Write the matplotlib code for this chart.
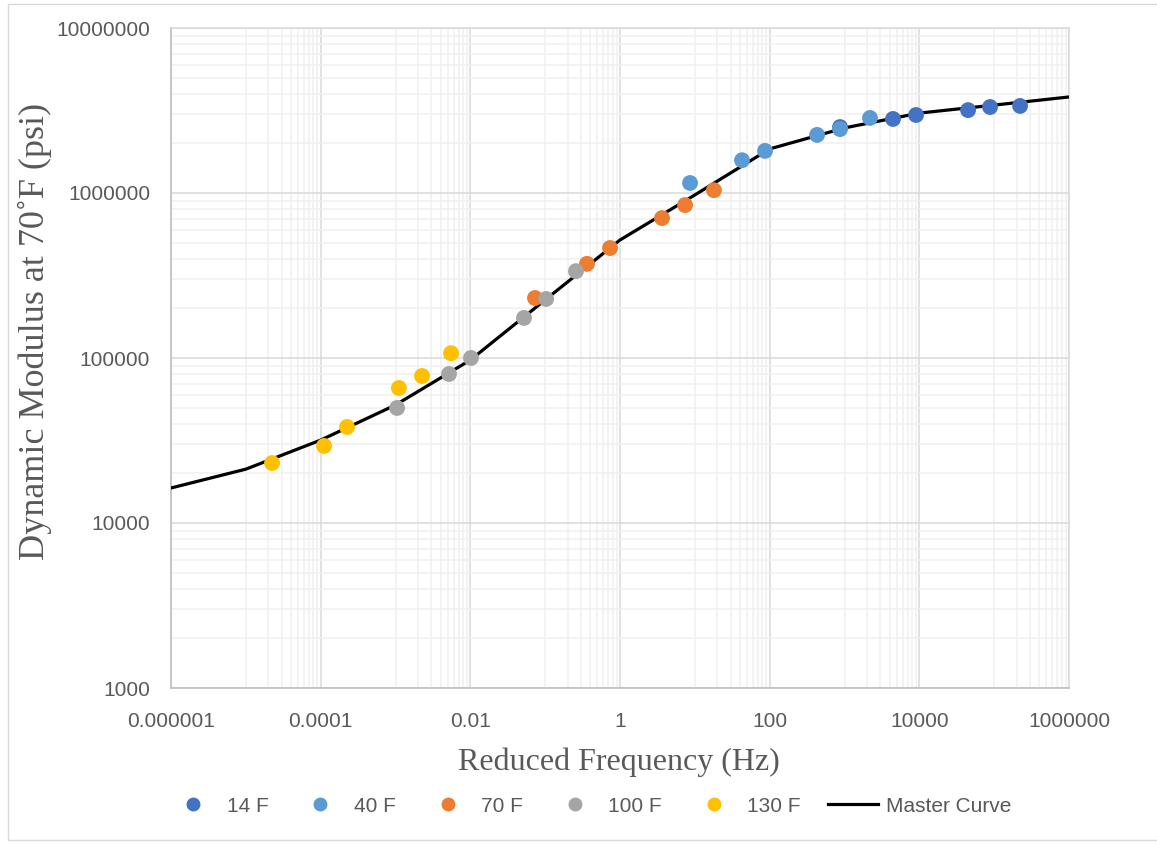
import numpy as np
import matplotlib
matplotlib.use("Agg")
import matplotlib.pyplot as plt
from matplotlib.ticker import FixedLocator, NullFormatter
from matplotlib.lines import Line2D
from matplotlib.patches import Rectangle

# measured points (reduced frequency in Hz, dynamic modulus in psi)
f_14 = [871, 4450, 9040, 44800, 88100, 222000]
e_14 = [2.51e6, 2.81e6, 2.97e6, 3.18e6, 3.32e6, 3.37e6]

f_40 = [8.63, 42.7, 86.7, 430, 871, 2190]
e_40 = [1.15e6, 1.58e6, 1.80e6, 2.25e6, 2.44e6, 2.85e6]

f_70 = [0.0731, 0.362, 0.736, 3.64, 7.40, 18.0]
e_70 = [231000, 372000, 464000, 705000, 845000, 1.04e6]

f_100 = [1.05e-3, 5.19e-3, 0.0102, 0.0521, 0.103, 0.258]
e_100 = [49800, 80000, 100000, 175000, 228000, 336000]

f_130 = [2.24e-5, 1.11e-4, 2.25e-4, 1.11e-3, 2.26e-3, 5.52e-3]
e_130 = [23100, 29300, 38200, 65800, 77800, 107000]

# master curve evaluated at each decade
f_master = [1e-6, 1e-5, 1e-4, 1e-3, 1e-2, 1e-1, 1, 10, 100, 1e3, 1e4, 1e5, 1e6]
e_master = [16300, 21200, 31800, 51900, 97200, 225000, 519000, 973000,
            1.85e6, 2.48e6, 3.05e6, 3.41e6, 3.82e6]

series = [
    ("14 F", f_14, e_14, "#4472C4"),
    ("40 F", f_40, e_40, "#5B9BD5"),
    ("70 F", f_70, e_70, "#ED7D31"),
    ("100 F", f_100, e_100, "#A5A5A5"),
    ("130 F", f_130, e_130, "#FFC000"),
]

x_ticks = [1e-6, 1e-4, 1e-2, 1, 100, 1e4, 1e6]
x_labels = ["0.000001", "0.0001", "0.01", "1", "100", "10000", "1000000"]
y_ticks = [1e3, 1e4, 1e5, 1e6, 1e7]
y_labels = ["1000", "10000", "100000", "1000000", "10000000"]

text_gray = "#595959"
sans = ["Liberation Sans", "DejaVu Sans"]
serif = ["Liberation Serif", "DejaVu Serif"]

W, H = 1157, 844
fig = plt.figure(figsize=(W / 100, H / 100), dpi=100)
ax = fig.add_axes([171 / W, 1 - 688 / H, 898 / W, 660 / H])

ax.set_xscale("log")
ax.set_yscale("log")
ax.set_xlim(1e-6, 1e6)
ax.set_ylim(1e3, 1e7)

# minor lines only in the upper decade of each major step on x
x_minor = []
for m in x_ticks[:-1]:
    x_minor.extend(m * 10 * np.arange(1, 10))
y_minor = []
for m in y_ticks[:-1]:
    y_minor.extend(m * np.arange(2, 10))

ax.xaxis.set_major_locator(FixedLocator(x_ticks))
ax.xaxis.set_minor_locator(FixedLocator(x_minor))
ax.yaxis.set_major_locator(FixedLocator(y_ticks))
ax.yaxis.set_minor_locator(FixedLocator(y_minor))
ax.set_xticklabels(x_labels, fontsize=15, family=sans, color=text_gray)
ax.set_yticklabels(y_labels, fontsize=15, family=sans, color=text_gray)
ax.xaxis.set_minor_formatter(NullFormatter())
ax.yaxis.set_minor_formatter(NullFormatter())
ax.tick_params(which="both", length=0)
ax.tick_params(axis="x", pad=17)
ax.tick_params(axis="y", pad=15)

ax.grid(which="major", color="#D9D9D9", linewidth=1.1, zorder=0)
ax.grid(which="minor", color="#F0F0F0", linewidth=1.1, zorder=0)
ax.set_axisbelow(True)
for side in ["left", "bottom"]:
    ax.spines[side].set_color("#BFBFBF")
    ax.spines[side].set_linewidth(1.2)
for side in ["top", "right"]:
    ax.spines[side].set_color("#D9D9D9")
    ax.spines[side].set_linewidth(1.1)

ax.plot(f_master, e_master, color="black", linewidth=2.3, zorder=3)
for name, f, e, c in series:
    ax.scatter(f, e, s=130, color=c, edgecolors="none", zorder=4)

fig.text(619 / W, 1 - 762 / H, "Reduced Frequency (Hz)", fontsize=23,
         family=serif, color=text_gray, ha="center", va="center")
fig.text(35 / W, 1 - 331 / H, "Dynamic Modulus at 70˚F (psi)", fontsize=26,
         family=serif, color=text_gray, ha="center", va="center",
         rotation=90)

handles = [Line2D([], [], linestyle="none", marker="o", markersize=10,
                  color=c, markeredgewidth=0) for name, f, e, c in series]
handles.append(Line2D([], [], color="black", linewidth=2.3))
labels = [s[0] for s in series] + ["Master Curve"]
fig.legend(handles, labels, loc="center", bbox_to_anchor=(590 / W, 1 - 806 / H),
           ncol=6, frameon=False, handlelength=2.4, handletextpad=0.4,
           columnspacing=1.3, prop={"family": sans, "size": 15},
           labelcolor=text_gray)

# light chart border
fig.patches.append(Rectangle((8 / W, 4 / H), 1.0, 1 - 8 / H,
                             transform=fig.transFigure, fill=False,
                             edgecolor="#D9D9D9", linewidth=1))

fig.savefig("out.png", dpi=100)
